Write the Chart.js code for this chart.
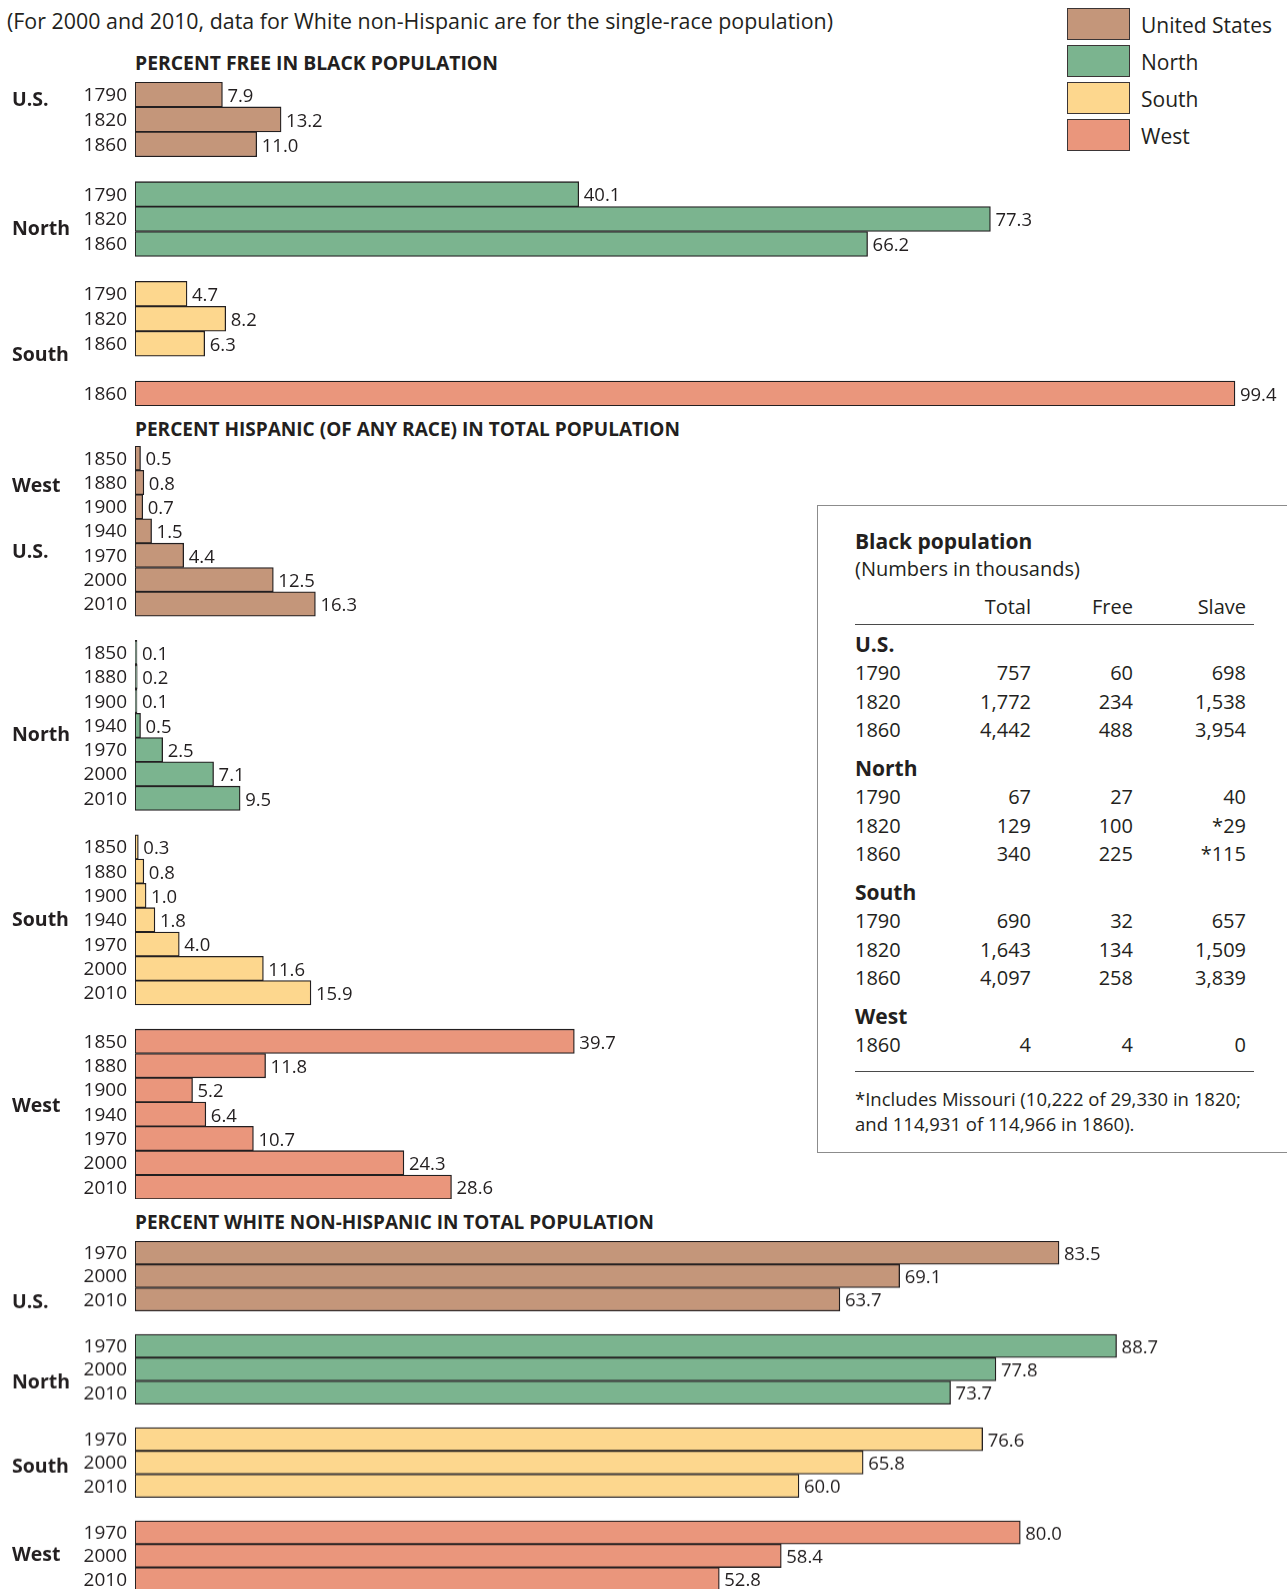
<!DOCTYPE html>
<html>
<head>
  <title>Black, Hispanic and White Population by Region</title>
  <script src="https://cdn.jsdelivr.net/npm/chart.js"></script>
  <style>
    html, body { margin: 0; padding: 0; background: #fff; }
    body { width: 1287px; height: 1589px; position: relative; overflow: hidden;
           font-family: "Open Sans", "Noto Sans", sans-serif; color: #231F20; }
    .abs { position: absolute; white-space: nowrap; }
    .fit { transform-origin: left center; display: inline-block; }
    .sectionTitle { font-weight: 700; font-size: 20px; line-height: 20px; }
    .legendBox { position: absolute; width: 61px; height: 30px; border: 1.5px solid #3b3536; }
    .legendText { position: absolute; font-size: 21px; line-height: 24px; }
    #tableBox { position: absolute; left: 817px; top: 505px; width: 500px; height: 646px;
                border: 1.5px solid #8c8c8c; background: #fff; }
    .cell { position: absolute; font-size: 20px; line-height: 24px; white-space: nowrap; }
    .rule { position: absolute; left: 37px; width: 399px; height: 0; border-top: 1.5px solid #4a4a4a; }
    .chartWrap { position: absolute; left: 0; width: 1287px; }
  </style>
</head>
<body>
  <div class="abs fit" id="subtitle" style="left:7px; top:9px; font-size:21px; line-height:24px;">(For 2000 and 2010, data for White non-Hispanic are for the single-race population)</div>

  <div class="abs fit sectionTitle" id="title1" style="left:135px; top:53px;">PERCENT FREE IN BLACK POPULATION</div>
  <div class="abs fit sectionTitle" id="title2" style="left:135px; top:419px;">PERCENT HISPANIC (OF ANY RACE) IN TOTAL POPULATION</div>
  <div class="abs fit sectionTitle" id="title3" style="left:135px; top:1212px;">PERCENT WHITE NON-HISPANIC IN TOTAL POPULATION</div>

  <div id="legend"></div>

  <div class="chartWrap" id="wrap1"><canvas id="freeChart"></canvas></div>
  <div class="chartWrap" id="wrap2"><canvas id="hispanicChart"></canvas></div>
  <div class="chartWrap" id="wrap3"><canvas id="whiteChart"></canvas></div>

  <div id="tableBox"></div>

  <script>
    // ---- data ----
    const regionNames = ['United States', 'North', 'South', 'West'];
    const regionColors = ['#C4967A', '#7BB48F', '#FDD78E', '#EA967C'];

    // percent free in black population
    const freeYears = ['1790', '1820', '1860'];
    const freeWestYears = ['1860'];
    const freeUS = [7.9, 13.2, 11.0];
    const freeNorth = [40.1, 77.3, 66.2];
    const freeSouth = [4.7, 8.2, 6.3];
    const freeWest = [99.4];

    // percent hispanic (of any race) in total population
    const hispYears = ['1850', '1880', '1900', '1940', '1970', '2000', '2010'];
    const hispUS = [0.5, 0.8, 0.7, 1.5, 4.4, 12.5, 16.3];
    const hispNorth = [0.1, 0.2, 0.1, 0.5, 2.5, 7.1, 9.5];
    const hispSouth = [0.3, 0.8, 1.0, 1.8, 4.0, 11.6, 15.9];
    const hispWest = [39.7, 11.8, 5.2, 6.4, 10.7, 24.3, 28.6];

    // percent white non-hispanic in total population
    const whiteYears = ['1970', '2000', '2010'];
    const whiteUS = [83.5, 69.1, 63.7];
    const whiteNorth = [88.7, 77.8, 73.7];
    const whiteSouth = [76.6, 65.8, 60.0];
    const whiteWest = [80.0, 58.4, 52.8];

    // black population table (thousands)
    const tableRegions = ['U.S.', 'North', 'South', 'West'];
    const tableYears = [['1790', '1820', '1860'], ['1790', '1820', '1860'], ['1790', '1820', '1860'], ['1860']];
    const tableTotal = [['757', '1,772', '4,442'], ['67', '129', '340'], ['690', '1,643', '4,097'], ['4']];
    const tableFree = [['60', '234', '488'], ['27', '100', '225'], ['32', '134', '258'], ['4']];
    const tableSlave = [['698', '1,538', '3,954'], ['40', '*29', '*115'], ['657', '1,509', '3,839'], ['0']];

    // ---- helpers ----
    const INK = '#231F20';
    const X0 = 135;            // left edge of the bars
    const PX_PER_UNIT = 11.066;

    // squeeze a text element to a given width (the original uses a condensed face)
    function fitWidth(id, w) {
      const el = document.getElementById(id);
      const natural = el.getBoundingClientRect().width;
      el.style.transform = 'scaleX(' + (w / natural) + ')';
    }

    // stack the region groups into one list of rows, with an empty row between groups
    function buildRows(groups) {
      const labels = [], values = [], colors = [];
      groups.forEach((g, gi) => {
        if (gi > 0) { labels.push(''); values.push(null); colors.push('rgba(0,0,0,0)'); }
        g.years.forEach((y, i) => {
          labels.push(y);
          values.push(g.values[i]);
          colors.push(regionColors[g.region]);
        });
      });
      return { labels, values, colors };
    }

    // draws year labels, value labels and the bold region labels
    const textPlugin = {
      id: 'textPlugin',
      afterDatasetsDraw(chart, args, opts) {
        const ctx = chart.ctx;
        const yScale = chart.scales.y;
        const meta = chart.getDatasetMeta(0);
        const values = chart.data.datasets[0].data;
        ctx.save();
        ctx.fillStyle = INK;
        ctx.textBaseline = 'middle';

        ctx.font = '19px "Open Sans"';
        ctx.textAlign = 'right';
        chart.data.labels.forEach((lab, i) => {
          if (lab) ctx.fillText(lab, 127, yScale.getPixelForValue(i) + 1);
        });

        ctx.font = '18.5px "Open Sans"';
        ctx.textAlign = 'left';
        meta.data.forEach((bar, i) => {
          if (values[i] == null) return;
          ctx.fillText(values[i].toFixed(1), bar.x + 5, bar.y + 2);
        });

        ctx.font = 'bold 19.5px "Open Sans"';
        opts.groupLabels.forEach(g => {
          ctx.fillText(g.text, 12, yScale.getPixelForValue(g.row));
        });
        ctx.restore();
      }
    };

    function makeChart(canvasId, wrapId, top, pitch, rows, groupLabels) {
      const wrap = document.getElementById(wrapId);
      wrap.style.top = top + 'px';
      wrap.style.height = (rows.labels.length * pitch) + 'px';
      return new Chart(document.getElementById(canvasId), {
        type: 'bar',
        data: {
          labels: rows.labels,
          datasets: [{
            data: rows.values,
            backgroundColor: rows.colors,
            borderColor: INK,
            borderWidth: 1.3,
            borderSkipped: false,
            barPercentage: 1,
            categoryPercentage: 1,
            minBarLength: 2,
          }],
        },
        options: {
          indexAxis: 'y',
          responsive: true,
          maintainAspectRatio: false,
          animation: false,
          layout: { padding: { left: X0, right: 0, top: 0, bottom: 0 } },
          scales: {
            x: { display: false, min: 0, max: (1287 - X0) / PX_PER_UNIT },
            y: { display: false },
          },
          plugins: {
            legend: { display: false },
            tooltip: { enabled: false },
            textPlugin: { groupLabels: groupLabels },
          },
        },
        plugins: [textPlugin],
      });
    }

    // ---- the three panels ----
    const freeRows = buildRows([
      { region: 0, years: freeYears, values: freeUS },
      { region: 1, years: freeYears, values: freeNorth },
      { region: 2, years: freeYears, values: freeSouth },
      { region: 3, years: freeWestYears, values: freeWest },
    ]);
    makeChart('freeChart', 'wrap1', 82, 24.92, freeRows, [
      { text: 'U.S.', row: 0.25 },
      { text: 'North', row: 5.4 },
      { text: 'South', row: 10.48 },
    ]);

    const hispRows = buildRows([
      { region: 0, years: hispYears, values: hispUS },
      { region: 1, years: hispYears, values: hispNorth },
      { region: 2, years: hispYears, values: hispSouth },
      { region: 3, years: hispYears, values: hispWest },
    ]);
    makeChart('hispanicChart', 'wrap2', 445.7, 24.3, hispRows, [
      { text: 'West', row: 1.16 },
      { text: 'U.S.', row: 3.88 },
      { text: 'North', row: 11.4 },
      { text: 'South', row: 19.04 },
      { text: 'West', row: 26.67 },
    ]);

    const whiteRows = buildRows([
      { region: 0, years: whiteYears, values: whiteUS },
      { region: 1, years: whiteYears, values: whiteNorth },
      { region: 2, years: whiteYears, values: whiteSouth },
      { region: 3, years: whiteYears, values: whiteWest },
    ]);
    makeChart('whiteChart', 'wrap3', 1241, 23.25, whiteRows, [
      { text: 'U.S.', row: 2.13 },
      { text: 'North', row: 5.6 },
      { text: 'South', row: 9.18 },
      { text: 'West', row: 13.0 },
    ]);

    // ---- legend ----
    const legend = document.getElementById('legend');
    regionNames.forEach((name, i) => {
      const top = 8 + i * 37.1;
      const box = document.createElement('div');
      box.className = 'legendBox';
      box.style.left = '1067px';
      box.style.top = top + 'px';
      box.style.background = regionColors[i];
      legend.appendChild(box);
      const txt = document.createElement('div');
      txt.className = 'legendText';
      txt.style.left = '1141px';
      txt.style.top = (top + 4.5) + 'px';
      txt.textContent = name;
      legend.appendChild(txt);
    });

    // ---- black population table ----
    const box = document.getElementById('tableBox');
    function cell(text, x, y, opts) {
      const el = document.createElement('div');
      el.className = 'cell';
      el.textContent = text;
      el.style.top = (y - 505 - 12) + 'px';
      if (opts && opts.right) {
        el.style.right = (500 - (x - 817)) + 'px';
      } else {
        el.style.left = (x - 817) + 'px';
      }
      if (opts && opts.bold) el.style.fontWeight = '700';
      if (opts && opts.size) el.style.fontSize = opts.size + 'px';
      box.appendChild(el);
    }
    const colRight = [1030, 1132, 1245];
    cell('Black population', 854, 540, { bold: true, size: 21 });
    cell('(Numbers in thousands)', 854, 568);
    ['Total', 'Free', 'Slave'].forEach((h, i) => cell(h, colRight[i], 606, { right: true }));

    const rule1 = document.createElement('div');
    rule1.className = 'rule';
    rule1.style.top = (623 - 505) + 'px';
    box.appendChild(rule1);

    let y = 643;
    tableRegions.forEach((reg, r) => {
      if (r > 0) y += 37.6;
      cell(reg, 854, y, { bold: true, size: 21 });
      tableYears[r].forEach((yr, i) => {
        y += 28.8;
        cell(yr, 854, y);
        cell(tableTotal[r][i], colRight[0], y, { right: true });
        cell(tableFree[r][i], colRight[1], y, { right: true });
        cell(tableSlave[r][i], colRight[2], y, { right: true });
      });
    });

    const rule2 = document.createElement('div');
    rule2.className = 'rule';
    rule2.style.top = (1070 - 505) + 'px';
    box.appendChild(rule2);

    cell('*Includes Missouri (10,222 of 29,330 in 1820;', 854, 1098, { size: 18.5 });
    cell('and 114,931 of 114,966 in 1860).', 854, 1123, { size: 18.5 });

    // ---- squeeze the titles to the original widths ----
    fitWidth('subtitle', 826);
    fitWidth('title1', 363);
    fitWidth('title2', 545);
    fitWidth('title3', 519);
  </script>
</body>
</html>
